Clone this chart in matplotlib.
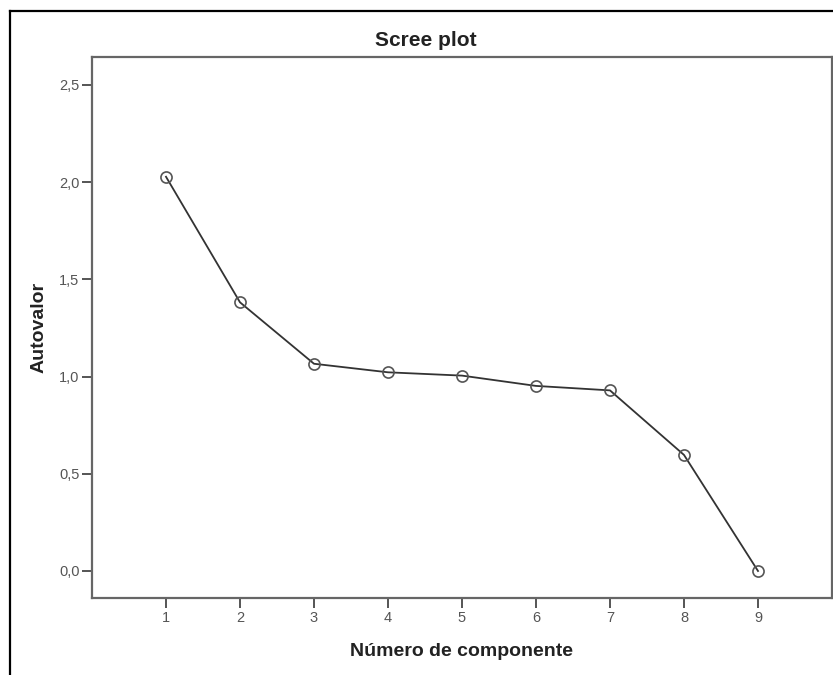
import matplotlib
matplotlib.use("Agg")
import matplotlib.pyplot as plt
from matplotlib.lines import Line2D

# scree plot values
componentes = [1, 2, 3, 4, 5, 6, 7, 8, 9]
autovalores = [2.028, 1.382, 1.066, 1.022, 1.005, 0.952, 0.929, 0.597, 0.0]
yticks = [0.0, 0.5, 1.0, 1.5, 2.0, 2.5]
ytick_labels = ["0,0", "0,5", "1,0", "1,5", "2,0", "2,5"]

plt.rcParams['font.family'] = ['Liberation Sans', 'DejaVu Sans']

fig = plt.figure(figsize=(8.33, 6.75), dpi=100)
ax = fig.add_axes([92 / 833, 77 / 675, 740 / 833, 541 / 675])

ax.plot(componentes, autovalores, color='#333333', linewidth=1.3,
        marker='o', markersize=8, markerfacecolor='none',
        markeredgecolor='#555555', markeredgewidth=1.2)

ax.set_xlim(0, 10)
ax.set_ylim(-0.139, 2.644)
ax.set_xticks(componentes)
ax.set_yticks(yticks)
ax.set_yticklabels(ytick_labels)

for s in ax.spines.values():
    s.set_color('#666666')
    s.set_linewidth(1.6)
ax.tick_params(colors='#555555', labelsize=10.5, length=7, width=1.4, pad=2)
ax.tick_params(axis='both', color='#555555')

ax.set_xlabel('Número de componente', fontsize=14, fontweight='bold',
              color='#222222', labelpad=13)
ax.set_ylabel('Autovalor', fontsize=14, fontweight='bold',
              color='#222222', labelpad=8)
fig.text(426 / 833, 1 - 40 / 675, 'Scree plot', ha='center', va='center',
         fontsize=15, fontweight='bold', color='#222222')

# outer frame (only left and top edges are visible in the crop)
fig.add_artist(Line2D([10 / 833, 10 / 833], [0, 1 - 10.5 / 675],
                      transform=fig.transFigure, color='black', linewidth=1.6))
fig.add_artist(Line2D([10 / 833, 1], [1 - 10.5 / 675, 1 - 10.5 / 675],
                      transform=fig.transFigure, color='black', linewidth=1.6))

fig.savefig('out.png', dpi=100)
